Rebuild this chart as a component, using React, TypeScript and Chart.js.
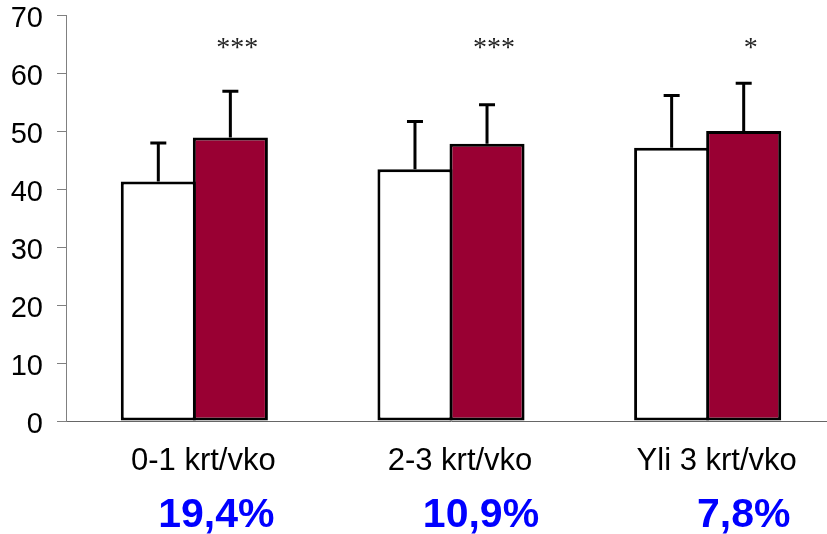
import React, { useEffect, useRef } from "react";
import { Chart, registerables } from "chart.js";

Chart.register(...registerables);

const categories = ["0-1 krt/vko", "2-3 krt/vko", "Yli 3 krt/vko"];
const whiteValues = [41.3, 43.4, 47.1];
const whiteErrors = [6.9, 8.5, 9.3];
const redValues = [48.9, 47.8, 50.0];
const redErrors = [8.2, 7.0, 8.5];
const significance = ["***", "***", "*"];
const percentages = ["19,4%", "10,9%", "7,8%"];

const SANS = "'Liberation Sans', Arial, sans-serif";
const SERIF = "'Liberation Serif', 'Times New Roman', serif";
const percentShift = [22, 30, 36];

const annotationPlugin = {
  id: "annotations",
  afterDatasetsDraw(chart: any) {
    const ctx = chart.ctx;
    const ys = chart.scales.y;
    const xs = chart.scales.x;
    ctx.save();
    // error bars (upper only)
    ctx.strokeStyle = "#000";
    ctx.lineWidth = 3;
    ctx.lineCap = "butt";
    [whiteErrors, redErrors].forEach((errs, di) => {
      const meta = chart.getDatasetMeta(di);
      const vals = chart.data.datasets[di].data as number[];
      meta.data.forEach((el: any, i: number) => {
        const top = ys.getPixelForValue(vals[i] + errs[i]) + 1.5;
        ctx.beginPath();
        ctx.moveTo(el.x, el.y);
        ctx.lineTo(el.x, top);
        ctx.moveTo(el.x - 8, top);
        ctx.lineTo(el.x + 8, top);
        ctx.stroke();
      });
    });
    // significance stars
    const redMeta = chart.getDatasetMeta(1);
    ctx.fillStyle = "#222";
    ctx.font = `28px ${SERIF}`;
    ctx.textAlign = "center";
    ctx.textBaseline = "alphabetic";
    redMeta.data.forEach((el: any, i: number) => {
      ctx.fillText(significance[i], el.x + 7, ys.getPixelForValue(63));
    });
    // percentages
    ctx.fillStyle = "#0000ff";
    ctx.font = `bold 41px ${SANS}`;
    percentages.forEach((p, i) => {
      ctx.fillText(p, xs.getPixelForValue(i) + percentShift[i], chart.chartArea.bottom + 106);
    });
    ctx.restore();
  },
};

export default function App() {
  const ref = useRef<HTMLCanvasElement | null>(null);

  useEffect(() => {
    if (!ref.current) return;
    const chart = new Chart(ref.current, {
      type: "bar",
      data: {
        labels: categories,
        datasets: [
          {
            data: whiteValues,
            backgroundColor: "#ffffff",
            borderColor: "#000000",
            borderWidth: 3,
            borderSkipped: false,
            categoryPercentage: 0.5614,
            barPercentage: 1.042,
          },
          {
            data: redValues,
            backgroundColor: "#990033",
            borderColor: "#000000",
            borderWidth: 3,
            borderSkipped: false,
            categoryPercentage: 0.5614,
            barPercentage: 1.042,
          },
        ],
      },
      options: {
        responsive: false,
        animation: false,
        devicePixelRatio: 1,
        layout: { padding: 0 },
        plugins: { legend: { display: false }, tooltip: { enabled: false } },
        scales: {
          x: {
            offset: true,
            grid: { display: false },
            border: { display: true, color: "#666666", width: 1 },
            ticks: {
              color: "#000",
              font: { family: SANS, size: 31, lineHeight: 1 },
              padding: 17,
              labelOffset: 9,
              maxRotation: 0,
              autoSkip: false,
            },
            afterFit: (s: any) => {
              s.height = 113;
            },
          },
          y: {
            min: 0,
            max: 70,
            ticks: {
              stepSize: 10,
              color: "#000",
              font: { family: SANS, size: 29, lineHeight: 1 },
              padding: 14,
              labelOffset: 3.5,
            },
            grid: {
              display: true,
              drawOnChartArea: false,
              drawTicks: true,
              tickLength: 9,
              color: "#808080",
              lineWidth: 1,
            },
            border: { display: true, color: "#808080", width: 1 },
            afterFit: (s: any) => {
              s.width = 66;
              s.paddingTop = 15;
              s.paddingBottom = 0;
            },
          },
        },
      },
      plugins: [annotationPlugin],
    });
    return () => chart.destroy();
  }, []);

  return (
    <div
      style={{
        position: "absolute",
        left: 0,
        top: 0,
        width: 827,
        height: 534,
        overflow: "hidden",
        background: "#ffffff",
      }}
    >
      <canvas ref={ref} width={836} height={534} style={{ display: "block" }} />
    </div>
  );
}
